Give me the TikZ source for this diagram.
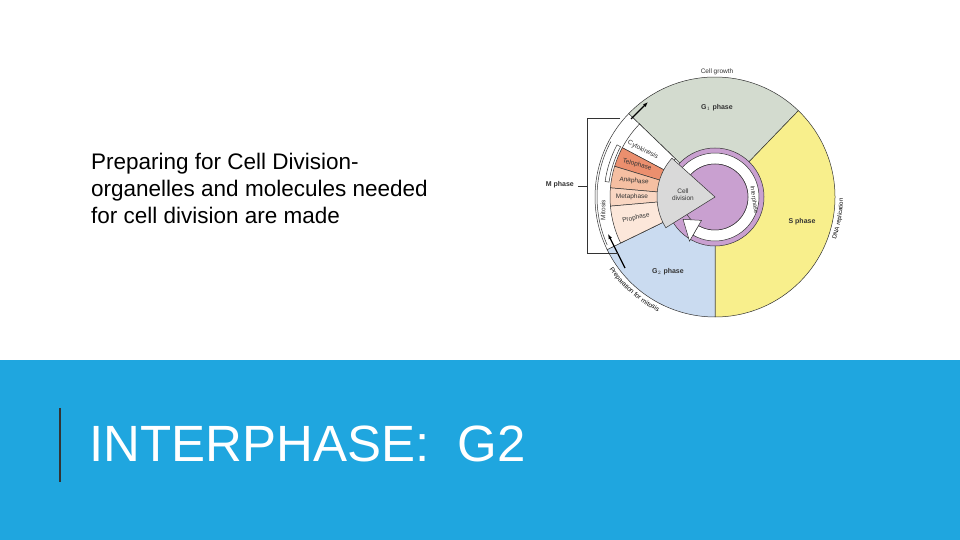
\documentclass[tikz,border=0pt]{standalone}
\usepackage{fontspec}
\setmainfont{Liberation Sans}
\usetikzlibrary{decorations.text,arrows.meta}
\definecolor{band}{HTML}{1FA6DF}
\definecolor{gone}{HTML}{D3DBCF}
\definecolor{sph}{HTML}{F8EF8C}
\definecolor{gtwo}{HTML}{CADBF0}
\definecolor{purp}{HTML}{C9A0D0}
\definecolor{divg}{HTML}{D9D9D9}
\definecolor{telo}{HTML}{EB8F6E}
\definecolor{ana}{HTML}{F5BFA2}
\definecolor{meta}{HTML}{F9D6C2}
\definecolor{pro}{HTML}{FCE7DA}
\definecolor{ink}{HTML}{333333}
\tikzset{
 lab/.style={font=\fontsize{6.5}{7}\selectfont,text=ink,inner sep=0pt},
 edge/.style={draw=ink,line width=0.5pt},
}
\newcommand{\ann}[3]{%
 \fill[#1,edge] ([shift={(C)}]#2:55pt) arc(#2:#3:55pt) -- ([shift={(C)}]#3:105pt) arc(#3:#2:105pt) -- cycle;}
\begin{document}
\begin{tikzpicture}[x=1pt,y=1pt]
\useasboundingbox (0,0) rectangle (960,540);
\fill[white] (0,0) rectangle (960,540);
\fill[band] (0,0) rectangle (960,180);
\draw[ink,line width=1.2pt] (60,132) -- (60,58);
\node[anchor=base west,text=white,font=\fontsize{51}{52}\selectfont,inner sep=0pt] (title) at (89,78) {INTERPHASE:\ \ G2};
\node[anchor=north west,align=left,font=\fontsize{22.5}{27}\selectfont,inner sep=0pt,text=black] (body) at (91,387)
 {Preparing for Cell Division-\\organelles and molecules needed\\for cell division are made};

\coordinate (C) at (715,343);
% outer phases
\fill[gone,edge] (C) -- ([shift={(C)}]46:120pt) arc(46:136:120pt) -- cycle;
\fill[sph,edge] (C) -- ([shift={(C)}]-90:120pt) arc(-90:46:120pt) -- cycle;
\fill[gtwo,edge] (C) -- ([shift={(C)}]206:120pt) arc(206:270:120pt) -- cycle;
% mitosis band
\fill[white,edge] ([shift={(C)}]136:120pt) arc(136:206:120pt) -- ([shift={(C)}]206:55pt) arc(206:136:55pt) -- cycle;
\ann{white}{136}{152}
\ann{telo}{152}{163}
\ann{ana}{163}{175}
\ann{meta}{175}{185}
\ann{pro}{185}{206}
\draw[edge] ([shift={(C)}]152:107pt) arc(152:172:107pt) -- ([shift={(C)}]172:111pt) arc(172:152:111pt) -- cycle;
\draw[edge] ([shift={(C)}]204:118pt) arc(204:152:118pt);
% inner rings
\fill[purp,edge] (C) circle[radius=49pt];
\fill[white,edge] ([shift={(C)}]150:44pt) arc(150:-120:44pt) -- ([shift={(C)}]-120:33pt) arc(-120:150:33pt) -- cycle;
\fill[purp,edge] (C) circle[radius=33pt];
% cell division wedge
\fill[divg,edge] (C) -- ([shift={(C)}]138:58pt) arc(138:212:58pt) -- cycle;
\fill[white,edge] ([shift={(C)}]215:39pt) -- ([shift={(C)}]240:27pt) -- ([shift={(C)}]240:51pt) -- cycle;
\node[lab,align=center] (cd) at (683,345) {Cell\\division};
% sector labels
\node[lab,rotate=-27] (cyto) at (643,390) {Cytokinesis};
\node[lab,rotate=-15] (telol) at (637,375) {Telophase};
\node[lab,rotate=-6] (anal) at (634,359) {Anaphase};
\node[lab] (metal) at (632,343) {Metaphase};
\node[lab,rotate=12] (prol) at (636,322) {Prophase};
\node[lab,rotate=90] (mit) at (603,330) {Mitosis};
\node[lab,rotate=-82,font=\fontsize{6}{7}\selectfont] (inter) at (754,340) {Interphase};
% phase labels
\node[lab,font=\fontsize{7}{8}\selectfont\bfseries] (g1) at (717,432) {G$_1$ phase};
\node[lab,font=\fontsize{7}{8}\selectfont\bfseries] (sp) at (802,318) {S phase};
\node[lab,font=\fontsize{7}{8}\selectfont\bfseries] (g2) at (668,268) {G$_2$ phase};
\node[lab] (grow) at (717,468) {Cell growth};
\path[decorate,decoration={text along path,text align=center,text={|\fontsize{6.5}{7}\selectfont|Preparation for mitosis}}]
 ([shift={(C)}]196:128pt) arc(196:262:128pt);
\path[decorate,decoration={text along path,text align=center,text={|\fontsize{6}{7}\selectfont|DNA replication}}]
 ([shift={(C)}]-35:128pt) arc(-35:15:128pt);
% arrows and bracket
\coordinate (a1) at (631,421); \coordinate (a2) at (648,438);
\draw[-{Latex[length=5pt]},line width=1.2pt] (a1) -- (a2);
\coordinate (b1) at (625,272); \coordinate (b2) at (608,306);
\draw[-{Latex[length=5pt]},line width=1.2pt] (b1) -- (b2);
\coordinate (k1) at (620,422); \coordinate (k2) at (587,422);
\coordinate (k3) at (587,287); \coordinate (k4) at (618,287);
\draw[edge] (k1) -- (k2) -- (k3) -- (k4);
\node[lab,font=\fontsize{7}{8}\selectfont\bfseries,anchor=east] (mph) at (574,355) {M phase};
\coordinate (m1) at (578,354); \coordinate (m2) at (587,354);
\draw[edge] (m1) -- (m2);
\end{tikzpicture}
\end{document}
